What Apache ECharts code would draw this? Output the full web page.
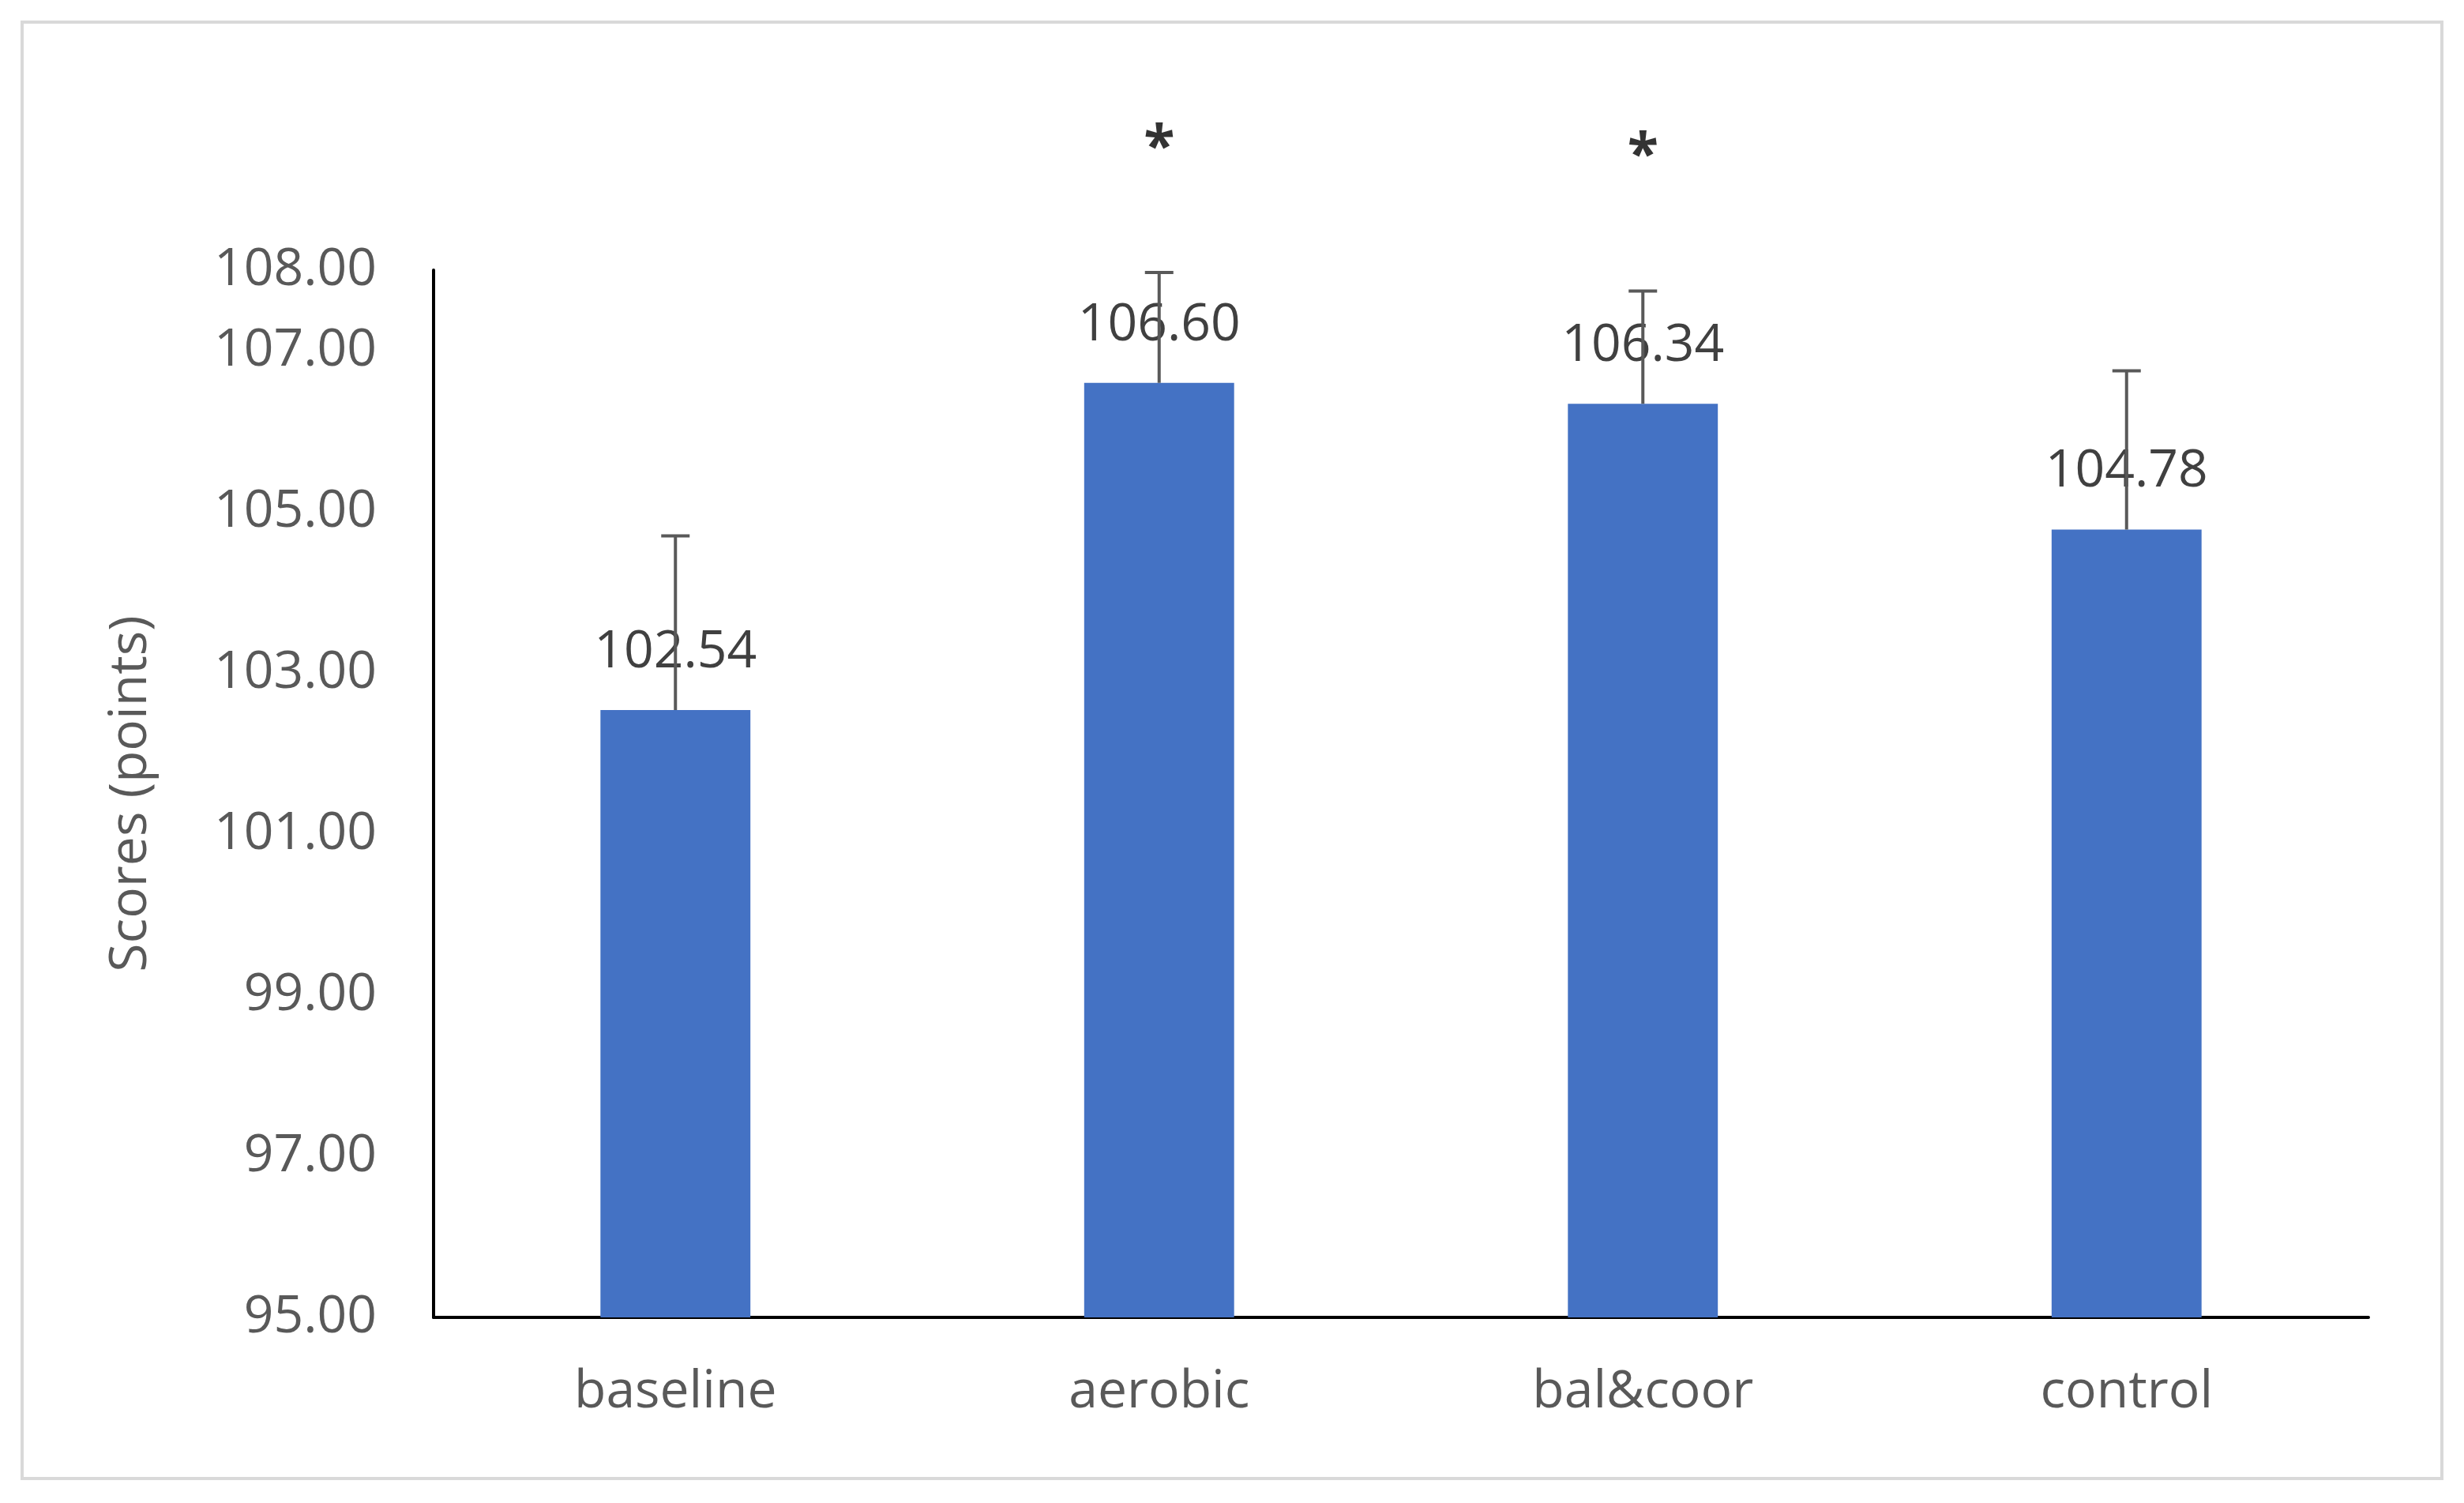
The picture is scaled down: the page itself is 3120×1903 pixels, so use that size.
<!DOCTYPE html>
<html>
<head>
<meta charset="utf-8">
<script src="https://cdn.jsdelivr.net/npm/echarts@6/dist/echarts.min.js"></script>
<style>
  html, body { margin: 0; padding: 0; background: #fff; }
  #chart { width: 3120px; height: 1903px; }
</style>
</head>
<body>
<div id="chart"></div>
<script>
var categories = ['baseline', 'aerobic', 'bal&coor', 'control'];
var means = [102.54, 106.60, 106.34, 104.78];
var errors = [2.16, 1.37, 1.40, 1.97];
var starY = [null, 109.5, 109.4, null];
var yTicks = { min: 95, max: 108, interval: 2 };

var font = '"Open Sans", sans-serif';
var chart = echarts.init(document.getElementById('chart'));

var errData = [];
for (var i = 0; i < means.length; i++) {
    errData.push([i, means[i], errors[i]]);
}
var starData = [];
for (var j = 0; j < starY.length; j++) {
    if (starY[j] != null) starData.push([j, starY[j]]);
}

var option = {
    animation: false,
    graphic: [{
        type: 'rect',
        shape: { x: 28, y: 28, width: 3064, height: 1844 },
        style: { fill: 'none', stroke: '#d9d9d9', lineWidth: 4 }
    }],
    grid: { left: 549, right: 121, top: 342, bottom: 235 },
    xAxis: {
        type: 'category',
        data: categories,
        axisLine: { lineStyle: { color: '#000', width: 4 } },
        axisTick: { show: false },
        axisLabel: { fontFamily: font, fontSize: 66, color: '#595959', margin: 62 }
    },
    yAxis: {
        type: 'value',
        min: yTicks.min,
        max: yTicks.max,
        interval: yTicks.interval,
        name: 'Scores (points)',
        nameLocation: 'middle',
        nameGap: 350,
        nameTextStyle: { fontFamily: font, fontSize: 66, color: '#595959' },
        axisLine: { show: true, lineStyle: { color: '#000', width: 4 } },
        axisTick: { show: false },
        splitLine: { show: false },
        axisLabel: {
            fontFamily: font, fontSize: 66, color: '#595959', margin: 72,
            formatter: function (v) { return v.toFixed(2); }
        }
    },
    series: [
        {
            type: 'bar',
            data: means,
            barWidth: '31%',
            itemStyle: { color: '#4472C4' },
            label: {
                show: true,
                position: 'top',
                distance: 40,
                fontFamily: font,
                fontSize: 66,
                color: '#404040',
                formatter: function (p) { return p.value.toFixed(2); }
            },
            z: 2
        },
        {
            type: 'custom',
            data: errData,
            z: 5,
            renderItem: function (params, api) {
                var x = api.value(0);
                var top = api.coord([x, api.value(1) + api.value(2)]);
                var base = api.coord([x, api.value(1)]);
                var half = 18;
                return {
                    type: 'group',
                    children: [
                        { type: 'line', shape: { x1: base[0], y1: base[1], x2: top[0], y2: top[1] },
                          style: { stroke: '#595959', lineWidth: 4 } },
                        { type: 'line', shape: { x1: top[0] - half, y1: top[1], x2: top[0] + half, y2: top[1] },
                          style: { stroke: '#595959', lineWidth: 4 } }
                    ]
                };
            }
        },
        {
            type: 'scatter',
            data: starData,
            symbolSize: 0,
            clip: false,
            label: {
                show: true,
                position: 'inside',
                formatter: '*',
                fontFamily: font,
                fontSize: 72,
                fontWeight: 'bold',
                color: '#000'
            }
        }
    ]
};
chart.setOption(option);
</script>
</body>
</html>
